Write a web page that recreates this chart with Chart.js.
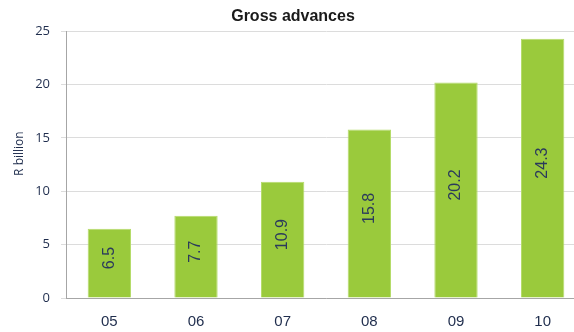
<!DOCTYPE html>
<html>
<head>
<meta charset="utf-8">
<script src="https://cdn.jsdelivr.net/npm/chart.js@4"></script>
<style>
  body { margin: 0; background: #fff; }
  /* the plot runs a little past the right edge, so the canvas is clipped */
  #wrap { width: 574px; height: 332px; overflow: hidden; }
</style>
</head>
<body>
<div id="wrap"><canvas id="chart" width="586" height="332"></canvas></div>
<script>
const years = ['05', '06', '07', '08', '09', '10'];
const advances = [6.5, 7.7, 10.9, 15.8, 20.2, 24.3];
const yTicks = [0, 5, 10, 15, 20, 25];
const yTitle = 'R billion';

// writes each value inside its bar, reading bottom to top
const barValues = {
    id: 'barValues',
    afterDatasetsDraw(chart) {
        const ctx = chart.ctx;
        const meta = chart.getDatasetMeta(0);
        ctx.save();
        ctx.fillStyle = '#2b3a5c';
        ctx.font = '16px "Liberation Sans", Arial, sans-serif';
        ctx.textAlign = 'center';
        ctx.textBaseline = 'middle';
        meta.data.forEach((bar, i) => {
            const midY = (bar.y + bar.base) / 2 - 5;
            ctx.save();
            ctx.translate(bar.x, midY);
            ctx.rotate(-Math.PI / 2);
            ctx.fillText(advances[i].toFixed(1), 0, 0);
            ctx.restore();
        });
        ctx.restore();
    }
};

// y axis caption, sitting a little above the middle of the plot
const axisCaption = {
    id: 'axisCaption',
    afterDraw(chart) {
        const ctx = chart.ctx;
        const area = chart.chartArea;
        ctx.save();
        ctx.fillStyle = '#1f2d4d';
        ctx.font = '12px "Open Sans", sans-serif';
        ctx.textAlign = 'center';
        ctx.textBaseline = 'middle';
        ctx.translate(20, (area.top + area.bottom) / 2 - 11);
        ctx.rotate(-Math.PI / 2);
        ctx.fillText(yTitle, 0, 0);
        ctx.restore();
    }
};

new Chart(document.getElementById('chart'), {
    type: 'bar',
    data: {
        labels: years,
        datasets: [{
            data: advances,
            backgroundColor: '#9aca3c',
            borderColor: '#b5dc6a',
            borderWidth: 1,
            barPercentage: 0.5,
            categoryPercentage: 1
        }]
    },
    options: {
        responsive: false,
        animation: false,
        layout: { padding: 0 },
        plugins: {
            legend: { display: false },
            tooltip: { enabled: false },
            title: {
                display: true,
                text: 'Gross advances',
                color: '#1a1a1a',
                font: { family: '"Liberation Sans", Arial, sans-serif', size: 16, weight: 'bold' },
                padding: { top: 7, bottom: 5 }
            }
        },
        scales: {
            x: {
                afterFit(axis) { axis.height = 34; },
                grid: { display: false, drawTicks: false },
                border: { color: '#a6a6a6' },
                ticks: {
                    color: '#1f2d4d',
                    padding: 15,
                    font: { family: '"Liberation Sans", Arial, sans-serif', size: 15 }
                }
            },
            y: {
                min: 0,
                max: 25,
                afterFit(axis) { axis.width = 66; },
                afterBuildTicks(axis) { axis.ticks = yTicks.map(v => ({ value: v })); },
                grid: { color: '#dcdcdc', tickLength: 5 },
                border: { color: '#a6a6a6' },
                ticks: {
                    color: '#1f2d4d',
                    padding: 11,
                    font: { family: '"Open Sans", sans-serif', size: 13 }
                }
            }
        }
    },
    plugins: [barValues, axisCaption]
});
</script>
</body>
</html>
